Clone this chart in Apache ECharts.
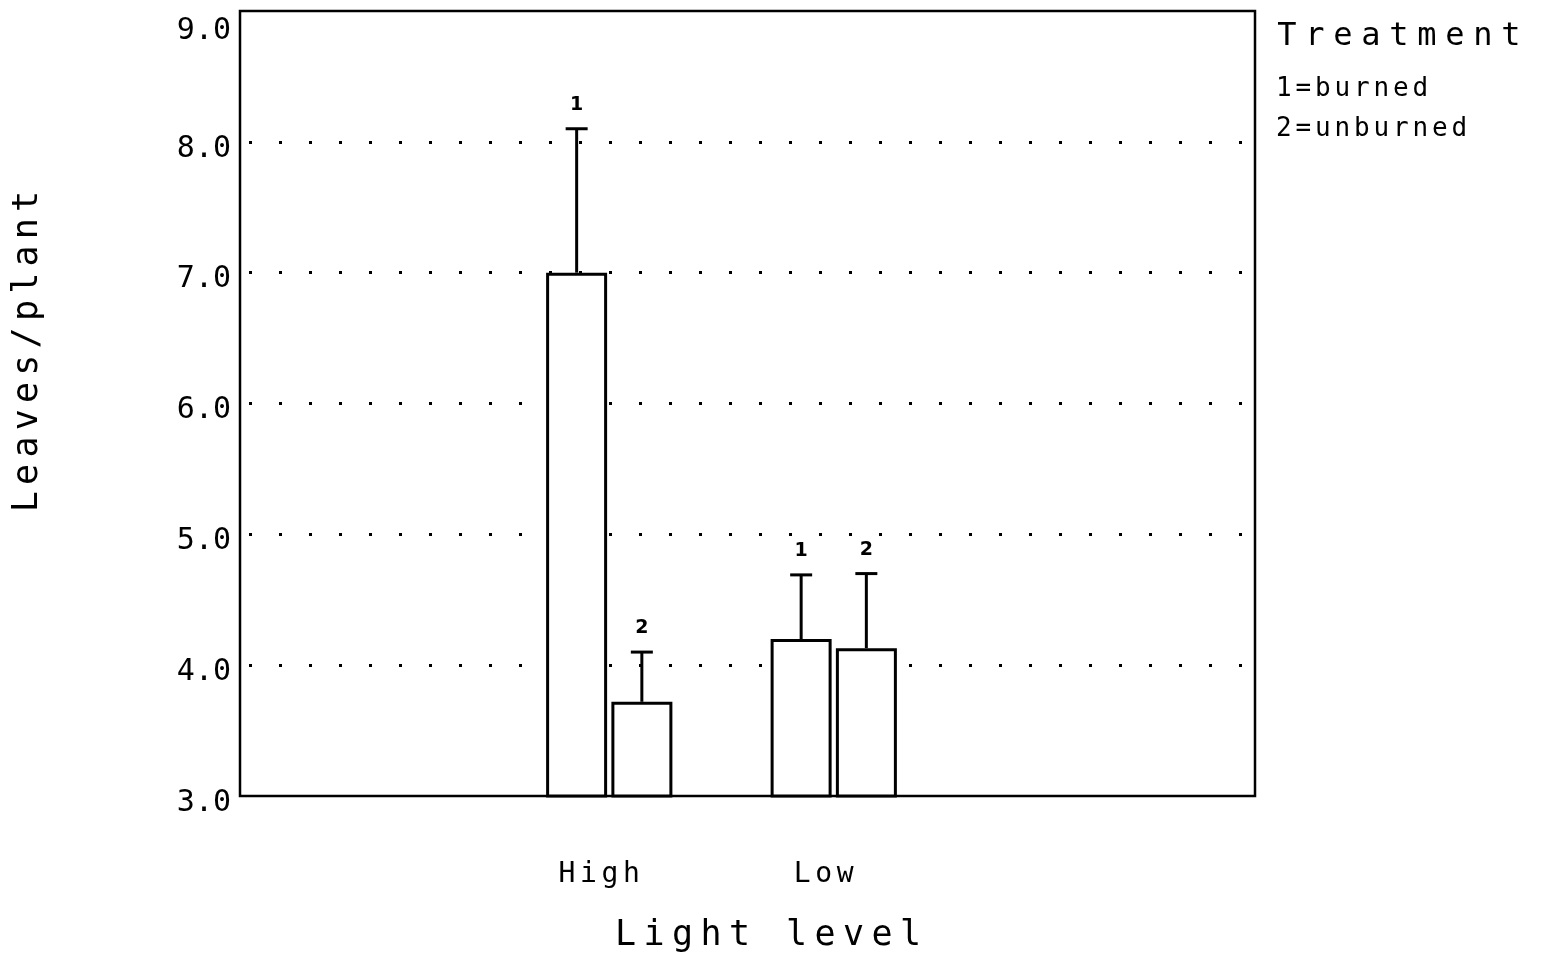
<!DOCTYPE html>
<html>
<head>
<meta charset="utf-8">
<script src="https://cdn.jsdelivr.net/npm/echarts@6/dist/echarts.min.js"></script>
<style>html,body{margin:0;padding:0;background:#fff;}#main{width:1545px;height:963px;}</style>
</head>
<body>
<div id="main"></div>
<script>
// ---- data ----
const categories = ['High', 'Low'];
const burnedMean = [7.0, 4.2];
const burnedUpper = [8.1, 4.69];
const unburnedMean = [3.72, 4.13];
const unburnedUpper = [4.1, 4.7];
const seriesCodes = ['1', '2'];
const seriesNames = ['burned', 'unburned'];
const legendTitle = 'Treatment';
const legendLines = ['1=burned', '2=unburned'];
const yMin = 3, yMax = 9, yStep = 1;
const xTitle = 'Light level';
const yTitle = 'Leaves/plant';

const FONT = 'DejaVu Sans Mono';
function sp(str, key) {
  return str.split('').map(function (ch) { return '{' + key + '|' + ch + '}'; }).join('');
}
function tok(w, size, lh) {
  return { width: w, align: 'center', fontSize: size, fontFamily: FONT, fontWeight: 'normal', color: '#000', lineHeight: lh };
}

const errData = [];
[[burnedMean, burnedUpper], [unburnedMean, unburnedUpper]].forEach(function (pair, s) {
  categories.forEach(function (c, i) {
    errData.push([i, pair[0][i], pair[1][i], s]);
  });
});

const chart = echarts.init(document.getElementById('main'), null, { renderer: 'canvas' });
const gridTop = 11, gridBottom = 167;
chart.setOption({
  animation: false,
  backgroundColor: '#fff',
  title: [
    { text: sp(legendTitle, 't'), left: 1273, top: 7, padding: 0,
      textStyle: { fontWeight: 'normal', fontFamily: FONT, rich: { t: tok(28, 32, 60) } } },
    { text: sp(legendLines[0], 's'), left: 1274, top: 69, padding: 0,
      textStyle: { fontWeight: 'normal', fontFamily: FONT, rich: { s: tok(19.5, 26, 40) } } },
    { text: sp(legendLines[1], 's'), left: 1274, top: 109, padding: 0,
      textStyle: { fontWeight: 'normal', fontFamily: FONT, rich: { s: tok(19.5, 26, 40) } } }
  ],
  grid: [
    { left: 240, right: 290, top: gridTop, bottom: gridBottom, show: true, outerBoundsMode: 'none',
      borderColor: '#000', borderWidth: 2.5, backgroundColor: 'transparent', containLabel: false },
    { left: 497, width: 449, top: gridTop, bottom: gridBottom, show: false, outerBoundsMode: 'none' }
  ],
  xAxis: [
    { type: 'value', gridIndex: 0, min: 0, max: 1,
      axisLine: { show: false }, axisTick: { show: false }, axisLabel: { show: false }, splitLine: { show: false },
      name: sp(xTitle, 'n'), nameLocation: 'middle', nameGap: 120,
      nameTextStyle: { padding: [0, 0, 0, 41], fontFamily: FONT, fontSize: 34, rich: { n: tok(28.5, 35, 40) } } },
    { type: 'category', gridIndex: 1, data: categories,
      axisLine: { show: false }, axisTick: { show: false },
      axisLabel: { interval: 0, margin: 64, padding: [0, 20, 0, 0], fontFamily: FONT, fontSize: 28, color: '#000',
        hideOverlap: false,
        formatter: function (v) { return sp(v, 'c'); },
        rich: { c: tok(21.5, 28, 30) } } }
  ],
  yAxis: [
    { type: 'value', gridIndex: 0, min: yMin, max: yMax, interval: yStep,
      axisLine: { show: false }, axisTick: { show: false },
      axisLabel: { margin: 9, color: '#000', fontFamily: FONT, fontSize: 30,
        formatter: function (v) { return v === yMax ? '{top|' + v.toFixed(1) + '}' : '{d|' + v.toFixed(1) + '}'; },
        rich: {
          top: { padding: [40, 0, 0, 0], fontFamily: FONT, fontSize: 30, color: '#000', lineHeight: 36 },
          d: { padding: [14, 0, 0, 0], fontFamily: FONT, fontSize: 30, color: '#000', lineHeight: 36 }
        } },
      splitLine: { show: true, showMinLine: false, showMaxLine: false,
        lineStyle: { color: '#000', width: 3, type: [3, 27], dashOffset: 21 } },
      name: sp(yTitle, 'n'), nameLocation: 'middle', nameGap: 192, nameRotate: 90,
      nameTextStyle: { padding: [0, 0, 0, 104], fontFamily: FONT, fontSize: 34, rich: { n: tok(27.3, 35, 40) } } },
    { type: 'value', gridIndex: 1, min: yMin, max: yMax, interval: yStep, show: false }
  ],
  series: [
    { name: seriesNames[0], type: 'bar', xAxisIndex: 1, yAxisIndex: 1, data: burnedMean,
      barWidth: 61, barGap: '7%',
      itemStyle: { color: '#fff', borderColor: '#000', borderWidth: 3 } },
    { name: seriesNames[1], type: 'bar', xAxisIndex: 1, yAxisIndex: 1, data: unburnedMean,
      barWidth: 61, barGap: '7%',
      itemStyle: { color: '#fff', borderColor: '#000', borderWidth: 3 } },
    { type: 'custom', xAxisIndex: 1, yAxisIndex: 1, data: errData, z: 5,
      renderItem: function (params, api) {
        const cat = api.value(0), mean = api.value(1), up = api.value(2), s = api.value(3);
        const base = api.coord([cat, mean]);
        const top = api.coord([cat, up]);
        const x = base[0] + (s === 0 ? -32.6 : 32.6);
        const st = { stroke: '#000', lineWidth: 3 };
        return { type: 'group', children: [
          { type: 'line', shape: { x1: x, y1: base[1], x2: x, y2: top[1] }, style: st },
          { type: 'line', shape: { x1: x - 11, y1: top[1], x2: x + 11, y2: top[1] }, style: st },
          { type: 'text', x: x, y: top[1] - 24,
            style: { text: seriesCodes[s], fill: '#000', font: 'bold 19px "DejaVu Sans"', align: 'center', verticalAlign: 'middle' } }
        ] };
      } }
  ]
});
</script>
</body>
</html>
